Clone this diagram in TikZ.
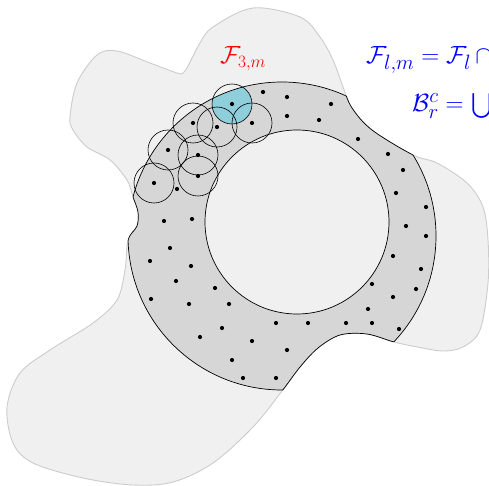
\documentclass[tikz,border=0pt]{standalone}
\usepackage{amsmath}
\begin{document}
\begin{tikzpicture}[x=1pt,y=-1pt,
  blobline/.style={draw=black!20,line width=0.9pt},
  edge/.style={draw=black,line width=0.7pt},
  dot/.style={fill=black},
  cov/.style={draw=black,line width=0.6pt},
  lbl/.style={inner sep=0pt,font=\fontsize{26}{30}\selectfont},
  blbl/.style={inner sep=0pt,text=blue,anchor=base west,font=\fontsize{28}{32}\selectfont}]
\useasboundingbox (0,0) rectangle (489,486);
\def\blob{plot[smooth cycle,tension=0.55] coordinates {
(97,55) (117,51) (150,63) (177,73) (183,73) (188,66) (200,43) (213,27) (253,8) (300,17) (320,37) (333,60) (343,87)
(352,108) (372,130) (413,155) (437,163) (467,183) (483,207) (488,240) (488,283) (480,330) (463,347) (443,351) (417,347) (394,342)
(367,334) (340,335) (318,348) (300,367) (282,391) (253,427) (213,463) (173,482) (133,485) (83,478) (33,463) (13,443) (7,407) (20,373) (50,350) (93,323)
(117,300) (125,270) (128,240) (137,226) (138,212) (133,197) (127,180) (110,160) (87,147) (73,130) (70,117) (77,83)}}
\coordinate (oc) at (282,236);
\coordinate (ic) at (297,222);
% blob
\fill[black!6] \blob;
\draw[blobline] \blob;
% annulus clipped to blob
\begin{scope}
  \clip \blob;
  \fill[black!16,even odd rule] (oc) circle[radius=154] (ic) circle[radius=92];
  \begin{scope}
    \clip (oc) circle[radius=154];
    \fill[fill={rgb,255:red,143;green,206;blue,219}] (232,104) circle[radius=20];
  \end{scope}
  \draw[edge] (oc) circle[radius=154];
\end{scope}
\begin{scope}
  \clip (oc) circle[radius=154];
  \draw[edge] \blob;
\end{scope}
\draw[edge] (ic) circle[radius=92];
% covering circles
\foreach \p in {(232,104),(193,123),(217,127),(252,123),(168,150),(198,155),(198,176),(154,183)}
  \draw[cov] \p circle[radius=20];
% points
\foreach \p in {(263,92),(287,97),(331,104),(287,116),(319,120),(358,139),(388,154),(403,170),(396,193),(426,207),(406,226),(426,236),
(393,256),(421,269),(372,284),(416,289),(393,297),(368,309),(372,323),(346,323),(308,323),(276,323),(399,329),(222,328),(200,337),
(252,341),(287,350),(232,360),(243,378),(276,378),(229,304),(189,304),(151,299),(215,288),(176,281),(191,266),(150,261),(170,248),
(164,221),(192,219),(177,189),(154,183),(198,176),(198,155),(168,150),(193,123),(217,127),(232,104),(252,123)}
  \fill[dot] \p circle[radius=2.1];
% labels
\node[lbl,text=red,anchor=base west] (f3m) at (220,64) {$\mathcal{F}_{3,m}$};
\node[blbl] (flm) at (366,64) {$\mathcal{F}_{l,m}=\mathcal{F}_l\,\cap$};
\node[blbl] (brc) at (412,112) {$\mathcal{B}_r^c=\mkern1mu\bigcup$};
\end{tikzpicture}
\end{document}
